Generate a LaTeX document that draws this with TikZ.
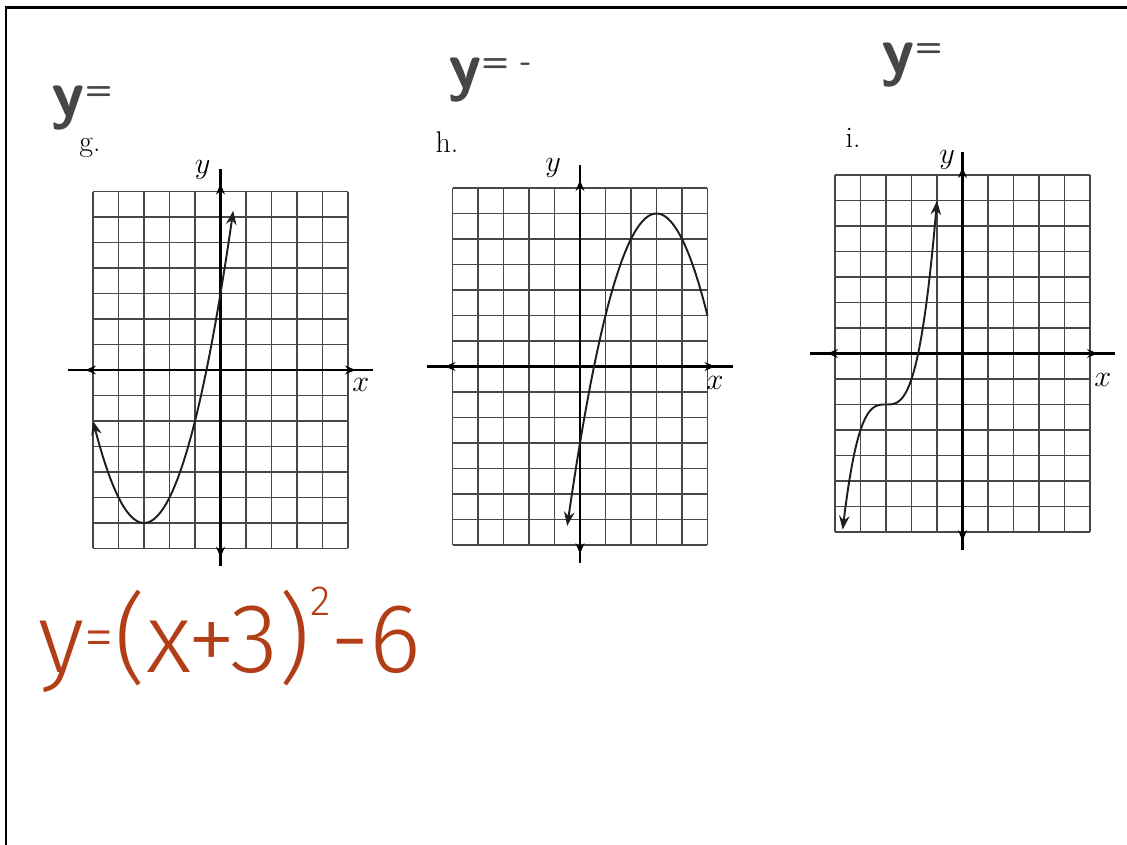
\documentclass[tikz,border=0pt]{standalone}
\usepackage{fontspec}
\usepackage{tikz}
\usetikzlibrary{arrows.meta}
\newfontfamily\inkfont{Fira Sans}[UprightFont=* Light]
\definecolor{inkred}{RGB}{178,62,24}
\definecolor{pencil}{RGB}{70,70,70}

\begin{document}
\begin{tikzpicture}[x=0.02cm,y=0.02cm,>=Stealth,
  gridline/.style={black!72,line width=1pt},
  axisline/.style={black,line width=1.3pt},
  axistip/.style={axisline,-{Stealth[length=6pt,width=5pt]}},
  curve/.style={black!88,line width=1.1pt},
  axislab/.style={font=\fontsize{17}{17}\selectfont},
  panellab/.style={font=\fontsize{17}{17}\selectfont},
  handlab/.style={pencil,font=\sffamily\bfseries\fontsize{38}{38}\selectfont}]
\useasboundingbox (0,0) rectangle (1127,845);
% frame of the page
\draw[line width=0.06cm] (6,0) -- (6,837) -- (1127,837);

% panels g, h, i: grid, axes and axis letters
\foreach \nm/\cx/\cy/\yx/\yy/\xx/\xy in {g/220.5/475/-0.7/7.85/5.5/-0.6,
    h/580/478.5/-1.05/7.8/5.3/-0.65, i/962.5/491.5/-0.6/7.6/5.5/-1.05}{
  \coordinate (\nm-o) at (\cx,\cy);
  \begin{scope}[shift={(\nm-o)},x=0.51cm,y=0.51cm]
    \draw[gridline,step=1] (-5,-7) grid (5,7);
    \coordinate (\nm-l) at (-6,0); \coordinate (\nm-r) at (6,0);
    \coordinate (\nm-b) at (0,-7.7); \coordinate (\nm-t) at (0,7.9);
    \draw[axisline] (\nm-l) -- (\nm-r);
    \draw[axisline] (\nm-b) -- (\nm-t);
    \draw[axistip] (-4.9,0) -- (-5.3,0);
    \draw[axistip] (4.9,0) -- (5.3,0);
    \draw[axistip] (0,6.9) -- (0,7.3);
    \draw[axistip] (0,-6.9) -- (0,-7.35);
    \node[axislab] (\nm-xl) at (\xx,\xy) {$x$};
    \node[axislab] (\nm-yl) at (\yx,\yy) {$y$};
  \end{scope}
}

% curves
\begin{scope}[shift={(g-o)},x=0.51cm,y=0.51cm]
  \draw[curve,<->] plot[domain=-5:0.5,samples=60,smooth] (\x,{(\x+3)^2-6});
\end{scope}
\begin{scope}[shift={(h-o)},x=0.51cm,y=0.51cm]
  \draw[curve,<-] plot[domain=-0.5:5,samples=60,smooth] (\x,{6-(\x-3)^2});
\end{scope}
\begin{scope}[shift={(i-o)},x=0.51cm,y=0.51cm]
  \draw[curve,<->] plot[domain=-4.7:-1,samples=60,smooth] (\x,{(\x+3)^3-2});
\end{scope}

% panel letters
\node[panellab] (lg) at (90,697) {g.};
\node[panellab] (lh) at (447,703) {h.};
\node[panellab] (li) at (853,707) {i.};

% pencil notes
\node[handlab] (hg) at (82,737) {y\raisebox{0.55ex}{\fontsize{18}{18}\selectfont =}};
\node[handlab] (hh) at (490,765) {y\raisebox{0.55ex}{\fontsize{18}{18}\selectfont = -}};
\node[handlab] (hi) at (912,780) {y\raisebox{0.55ex}{\fontsize{18}{18}\selectfont =}};

% answer in red ink
\node[inkred,font=\inkfont\fontsize{56}{56}\selectfont] (ans) at (230,205)
  {y\raisebox{0.3ex}{\fontsize{34}{34}\selectfont =}(x+3)\raisebox{1.1ex}{\fontsize{24}{24}\selectfont 2}-6};
\end{tikzpicture}
\end{document}
